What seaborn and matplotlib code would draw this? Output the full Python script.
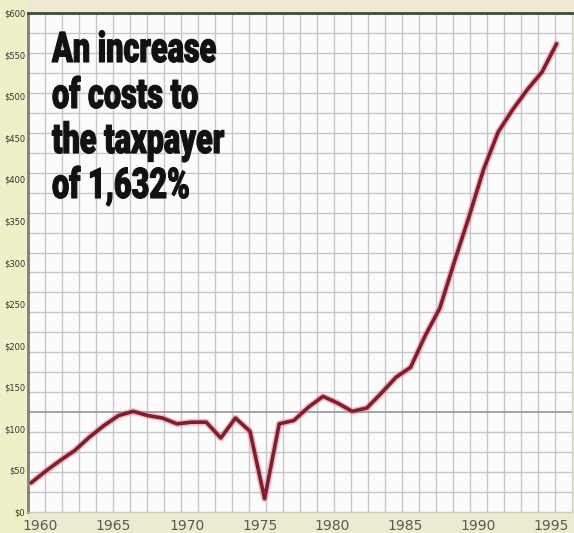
import numpy as np
import pandas as pd
import matplotlib
matplotlib.use("Agg")
import matplotlib.pyplot as plt
import seaborn as sns
from matplotlib.patches import Rectangle
from matplotlib.patheffects import AbstractPathEffect
from matplotlib.transforms import Affine2D, ScaledTranslation

# Annual cost to the taxpayer (dollars)
years = list(range(1959, 1996))
cost = [35, 49, 62, 74, 90, 104, 116, 121, 116, 113,
        106, 108, 108, 89, 113, 97, 16, 106, 110, 126,
        139, 131, 121, 125, 143, 162, 174, 212, 245, 301,
        355, 412, 457, 484, 508, 529, 563]

y_ticks = list(range(0, 601, 50))
y_tick_labels = [f"${v}" for v in y_ticks]
x_ticks = [1960, 1965, 1970, 1975, 1980, 1985, 1990, 1995]
x_tick_labels = [str(v) for v in x_ticks]

headline = ["An increase", "of costs to", "the taxpayer", "of 1,632%"]


class Squeeze(AbstractPathEffect):
    """Draw text glyphs rescaled about each line's origin, with a thin outline."""

    def __init__(self, sx=0.6, sy=1.0, stroke=1.0):
        super().__init__()
        self.sx = sx
        self.sy = sy
        self.stroke = stroke

    def draw_path(self, renderer, gc, tpath, affine, rgbFace=None):
        tr = Affine2D().scale(self.sx, self.sy) + affine
        gc0 = renderer.new_gc()
        gc0.copy_properties(gc)
        gc0.set_linewidth(self.stroke)
        gc0.set_foreground(rgbFace)
        gc0.set_joinstyle("round")
        renderer.draw_path(gc0, tpath, tr, rgbFace)
        gc0.restore()


df = pd.DataFrame({"year": years, "cost": cost})

sns.set_style("white")
W, H = 574, 533
fig = plt.figure(figsize=(W / 100, H / 100), dpi=100, facecolor="#ecebd0")

# pale yellow strip behind the value labels
fig.patches.append(Rectangle((0, 0), 27 / W, 1, transform=fig.transFigure,
                             facecolor="#eef0c8", edgecolor="none", zorder=-5))

ax = fig.add_axes([28 / W, 21 / H, 544 / W, 499 / H])
ax.set_facecolor("#fdfcfd")

x0 = 1959 + (28 - 31) / 14.6
x1 = 1959 + (572 - 31) / 14.6
ax.set_xlim(x0, x1)
ax.set_ylim(0, 600)

# graph-paper grid
for xv in np.linspace(x0, x1, 33)[1:-1]:
    ax.axvline(xv, color="#c6c6ca", lw=1.0, zorder=0)
for yv in np.arange(24, 600, 24):
    dark = yv == 120
    ax.axhline(yv, color="#9c9ca0" if dark else "#c6c6ca",
               lw=1.3 if dark else 1.0, zorder=0)

sns.lineplot(data=df, x="year", y="cost", ax=ax, color="#e8808c", lw=4.8,
             alpha=0.5, solid_joinstyle="round", solid_capstyle="round", zorder=3)
sns.lineplot(data=df, x="year", y="cost", ax=ax, color="#7e1e2e", lw=2.6,
             solid_joinstyle="round", solid_capstyle="round", zorder=4)

ax.set_xticks(x_ticks)
ax.set_xticklabels(x_tick_labels, fontsize=10, color="#5a5a55")
ax.set_yticks(y_ticks)
ax.set_yticklabels(y_tick_labels, fontsize=6, color="#333333")
ax.tick_params(axis="both", length=0)
ax.tick_params(axis="x", pad=5)
ax.tick_params(axis="y", pad=2)
shift = ScaledTranslation(-0.05, 0, fig.dpi_scale_trans)
for lab in ax.get_xticklabels():
    lab.set_transform(lab.get_transform() + shift)
ax.set_xlabel("")
ax.set_ylabel("")

for side, col, lw in [("top", "#3f4a40", 2.0), ("left", "#7d7f78", 2.0),
                      ("bottom", "#c8c8b8", 1.0), ("right", "#d0d0c8", 1.0)]:
    ax.spines[side].set_visible(True)
    ax.spines[side].set_color(col)
    ax.spines[side].set_linewidth(lw)

baselines = [62, 108, 153, 198]
for text, b in zip(headline, baselines):
    fig.text(52 / W, 1 - b / H, text, fontsize=29, weight="black",
             family=["Roboto", "DejaVu Sans"], color="#111111",
             ha="left", va="baseline", zorder=10,
             path_effects=[Squeeze(0.76, 1.05, 0.8)])

fig.savefig("out.png", dpi=100, facecolor=fig.get_facecolor())
